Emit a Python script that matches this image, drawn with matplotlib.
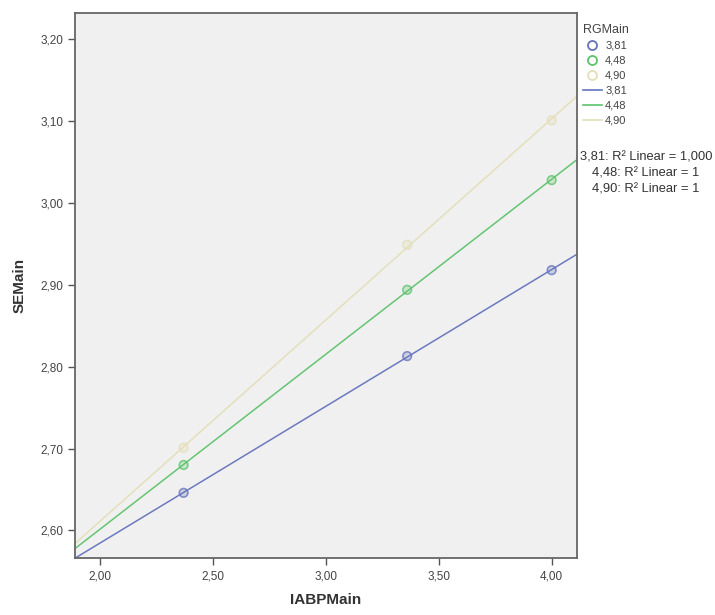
import numpy as np
import matplotlib
matplotlib.use("Agg")
import matplotlib.pyplot as plt
from matplotlib.lines import Line2D

plt.rcParams['font.family'] = ['Liberation Sans', 'DejaVu Sans']

groups = ["3,81", "4,48", "4,90"]
iabp = [2.37, 3.36, 4.00]
se_381 = [2.646, 2.813, 2.918]
se_448 = [2.680, 2.894, 3.028]
se_490 = [2.701, 2.949, 3.101]
r2_labels = ["3,81: R\u00b2 Linear = 1,000", "4,48: R\u00b2 Linear = 1", "4,90: R\u00b2 Linear = 1"]
xticks = [2.0, 2.5, 3.0, 3.5, 4.0]
yticks = [2.6, 2.7, 2.8, 2.9, 3.0, 3.1, 3.2]

colors = ["#6473bd", "#5cc36b", "#e3dfb8"]
series = [se_381, se_448, se_490]

fig = plt.figure(figsize=(7.15, 6.15), dpi=100)
ax = fig.add_axes([0.1049, 0.0922, 0.8066 - 0.1049, 0.9793 - 0.0922])
ax.set_facecolor("#f0f0f0")

xlim = (1.889, 4.111)
ax.set_xlim(*xlim)
ax.set_ylim(2.566, 3.2325)

xs = np.array(iabp)
xfit = np.array(xlim)
for ys, c in zip(series, colors):
    slope, icpt = np.polyfit(xs, np.array(ys), 1)
    ax.plot(xfit, slope * xfit + icpt, color=c, lw=1.1, zorder=2, alpha=0.95)
    ax.scatter(xs, ys, s=38, facecolors="none", edgecolors=c, linewidths=1.2,
               alpha=0.8, zorder=3)
    ax.scatter(xs, ys, s=30, facecolors=c, edgecolors="none", alpha=0.25, zorder=3)

ax.set_xticks(xticks)
ax.set_yticks(yticks)
ax.set_xticklabels([f"{v:.2f}".replace(".", ",") for v in xticks])
ax.set_yticklabels([f"{v:.2f}".replace(".", ",") for v in yticks])
ax.tick_params(direction="out", length=5, width=1, colors="#555555",
               labelcolor="#444444", labelsize=8.5)
for s in ax.spines.values():
    s.set_color("#666666")
    s.set_linewidth(1.3)

ax.set_xlabel("IABPMain", fontsize=11, fontweight="bold", color="#333333", labelpad=8)
ax.set_ylabel("SEMain", fontsize=11, fontweight="bold", color="#333333", labelpad=10)

handles = []
labels = []
for g, c in zip(groups, colors):
    handles.append(Line2D([], [], marker="o", ls="none", markersize=6.5,
                          markerfacecolor="none", markeredgecolor=c, markeredgewidth=1.3))
    labels.append(g)
for g, c in zip(groups, colors):
    handles.append(Line2D([], [], color=c, lw=1.2))
    labels.append(g)

leg = fig.legend(handles, labels, title="RGMain", loc="upper left",
                 bbox_to_anchor=(0.806, 0.972), frameon=False, fontsize=8,
                 title_fontsize=9, labelspacing=0.45, handlelength=1.7,
                 handletextpad=0.3, borderaxespad=0.2, alignment="left")
for t in leg.get_texts():
    t.set_color("#444444")
leg.get_title().set_color("#444444")

for i, lab in enumerate(r2_labels):
    fig.text(0.9035, 1 - (158 + 15.5 * i) / 615, lab, ha="center", va="center",
             fontsize=9.3, color="#333333")

fig.savefig("out.png", dpi=100, facecolor="white")
